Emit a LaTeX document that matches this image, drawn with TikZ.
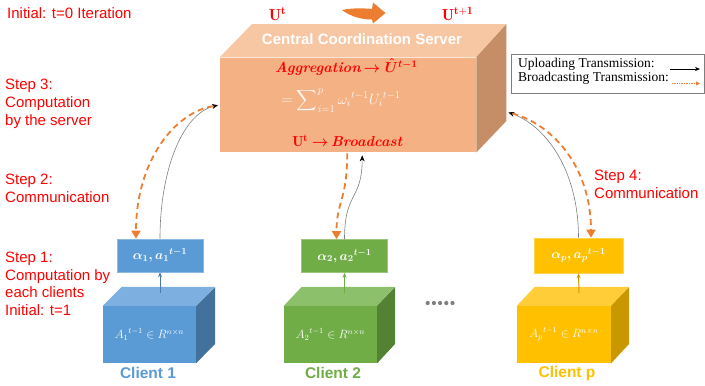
\RequirePackage{fix-cm}
\documentclass[tikz,border=0pt]{standalone}
\usepackage{amsmath}
\usepackage{fontspec}
\usetikzlibrary{arrows.meta,calc}
\newfontfamily\arialf{Liberation Sans}
\newfontfamily\timesf{Liberation Serif}
\definecolor{srvfront}{HTML}{F4B183}
\definecolor{srvtop}{HTML}{F7C6A3}
\definecolor{srvside}{HTML}{C58E67}
\definecolor{cblue}{HTML}{5B9BD5}
\definecolor{cbluetop}{HTML}{7DB0E0}
\definecolor{cblueside}{HTML}{41719C}
\definecolor{cgreen}{HTML}{70AD47}
\definecolor{cgreentop}{HTML}{8DC06A}
\definecolor{cgreenside}{HTML}{548235}
\definecolor{cgold}{HTML}{FFC000}
\definecolor{cgoldtop}{HTML}{FFCD38}
\definecolor{cgoldside}{HTML}{C99700}
\definecolor{bcast}{HTML}{ED7D31}
\definecolor{stepred}{HTML}{FF0000}
\definecolor{upgray}{HTML}{7F7F7F}
\begin{document}
\begin{tikzpicture}[x=1pt,y=-1pt,
  steplabel/.style={font=\arialf\fontsize{15}{17.7}\selectfont, text=stepred, align=left, anchor=north west, inner sep=0pt},
  upl/.style={draw=upgray, line width=0.6pt, -{Stealth[length=6pt,width=5pt,black]}},
  bc/.style={draw=bcast, line width=1.8pt, dash pattern=on 6pt off 4pt, -{Triangle[length=8pt,width=9pt]}},
  cfront/.style={fill=#1, minimum width=93pt, minimum height=57pt, inner sep=0pt, text=white, font=\fontsize{12}{14}\selectfont},
  cbox/.style={fill=#1, draw=#1!70!white, line width=0.6pt, minimum width=86pt, minimum height=33pt, inner sep=0pt, text=white, font=\fontsize{13}{15}\selectfont},
  inarrow/.style={draw=#1, line width=1pt, -{Stealth[length=5pt,width=4pt]}},
  clabel/.style={font=\arialf\bfseries\fontsize{15.5}{17}\selectfont, text=#1, inner sep=0pt},
  mathred/.style={text=stepred, inner sep=0pt, font=\fontsize{14.5}{17}\selectfont},
]
\useasboundingbox (0,0) rectangle (705,386);

% ---------------- server ----------------
\node[fill=srvfront, minimum width=256pt, minimum height=95pt, inner sep=0pt, anchor=north west] (srv) at (220,57) {};
\fill[srvtop] (srv.north west) -- ++(32,-33) -- ++(254,0) -- (srv.north east) -- cycle;
\fill[srvside] (srv.north east) -- ++(30,-33) -- ++(0,97) -- (srv.south east) -- cycle;
\draw[white!55!srvtop, line width=0.8pt] (srv.north west) -- (srv.north east);
\node[font=\arialf\bfseries\fontsize{15}{17}\selectfont, text=white, inner sep=0pt] (title) at (362,39.5) {Central Coordination Server};

\node[mathred] (agg) at (346.5,67) {\textbf{\textit{Aggregation}}\,$\boldsymbol{\rightarrow \hat{U}^{t-1}}$};
\node[text=white!90!srvfront, inner sep=0pt, font=\fontsize{15}{17}\selectfont] (sum) at (341,100.5) {$=\displaystyle\sum\nolimits_{i=1}^{p}{\omega_i}^{t-1}{U_i}^{t-1}$};
\node[mathred] (bcst) at (347.5,140.5) {$\mathbf{U}^{\mathbf{t}}\boldsymbol{\rightarrow}$\,\textbf{\textit{Broadcast}}};

% top iteration arrow
\node[text=stepred, inner sep=0pt, font=\fontsize{16}{18}\selectfont] (ut) at (277.5,14) {$\mathbf{U}^{\mathbf{t}}$};
\node[text=stepred, inner sep=0pt, font=\fontsize{16}{18}\selectfont] (ut1) at (457.5,14) {$\mathbf{U}^{\mathbf{t+1}}$};
\fill[bcast] (342,10) .. controls (352,8) and (362,8) .. (372,9) -- (373,2.5) -- (385.5,13) -- (373,23.5) -- (372,19.5) .. controls (360,19.5) and (350,16) .. (342,10) -- cycle;

% ---------------- legend ----------------
\draw[upgray, line width=0.8pt] (511,54) rectangle (704,93);
\node[font=\timesf\fontsize{13.5}{14}\selectfont, align=left, anchor=north west, inner sep=0pt] (leg) at (518,58)
  {Uploading Transmission:\\Broadcasting Transmission:};
\coordinate (lu1) at (670,69); \coordinate (lu2) at (700,69);
\coordinate (lb1) at (672,83.5); \coordinate (lb2) at (700,83.5);
\draw[draw=black, line width=0.6pt, -{Stealth[length=5pt,width=4pt]}] (lu1) -- (lu2);
\draw[draw=bcast, line width=0.7pt, densely dotted, -{Triangle[length=4pt,width=4pt]}] (lb1) -- (lb2);

% ---------------- step labels ----------------
\node[steplabel] (init0) at (7,7.3) {Initial: t=0 Iteration};
\node[steplabel] (s3) at (5,79.3) {Step 3:\\Computation\\by the server};
\node[steplabel] (s2) at (5,174) {Step 2:\\Communication};
\node[steplabel] (s1) at (5,251.7) {Step 1:\\Computation by\\each clients\\Initial: t=1};
\node[steplabel] (s4) at (594,170) {Step 4:\\Communication};

% ---------------- client 1 ----------------
\node[cfront=cblue] (c1) at (149.5,334.5) {${A_1}^{t-1}\in R^{n\times n}$};
\fill[cbluetop] (c1.north west) -- ++(19,-19) -- ++(93,0) -- (c1.north east) -- cycle;
\fill[cblueside] (c1.north east) -- ++(19,-19) -- ++(0,57) -- (c1.south east) -- cycle;
\node[cbox=cblue] (a1) at (160,255.5) {$\boldsymbol{\alpha_1, {a_1}^{t-1}}$};
\coordinate (c1top) at ($(c1.north)+(10.5,-13)$);
\draw[inarrow=cblue!80!black] (c1top) -- (a1.south);
\node[clabel=cblue] (l1) at (148,373) {Client 1};

% ---------------- client 2 ----------------
\node[cfront=cgreen] (c2) at (330.5,334.5) {${A_2}^{t-1}\in R^{n\times n}$};
\fill[cgreentop] (c2.north west) -- ++(18,-19) -- ++(93,0) -- (c2.north east) -- cycle;
\fill[cgreenside] (c2.north east) -- ++(18,-19) -- ++(0,57) -- (c2.south east) -- cycle;
\node[cbox=cgreen] (a2) at (344.5,256) {$\boldsymbol{\alpha_2, {a_2}^{t-1}}$};
\coordinate (c2top) at ($(c2.north)+(14,-13)$);
\draw[inarrow=cgreen] (c2top) -- (a2.south);
\node[clabel=cgreen] (l2) at (333,373) {Client 2};

% ---------------- client p ----------------
\node[cfront=cgold, minimum width=94pt] (cp) at (564,334.5) {${A_p}^{t-1}\in R^{n\times n}$};
\fill[cgoldtop] (cp.north west) -- ++(18,-19) -- ++(94,0) -- (cp.north east) -- cycle;
\fill[cgoldside] (cp.north east) -- ++(18,-19) -- ++(0,57) -- (cp.south east) -- cycle;
\node[cbox=cgold, minimum width=89pt, minimum height=35pt] (ap) at (578.5,255.5) {$\boldsymbol{\alpha_p, {a_p}^{t-1}}$};
\coordinate (cptop) at ($(cp.north)+(15,-13)$);
\draw[inarrow=cgold!80!black] (cptop) -- (ap.south);
\node[clabel=cgold] (lp) at (567,373) {Client p};

% dots
\foreach \i in {0,...,4} \fill[upgray] (427.7+6.2*\i,303) circle (2.1pt);

% ---------------- connectors ----------------
\coordinate (s1up) at ($(srv.west)+(-2,0.5)$);
\coordinate (s1bc) at ($(srv.west)+(-7,1.5)$);
\coordinate (s2up) at ($(srv.south)+(14,3)$);
\coordinate (s2bc) at ($(srv.south)+(-1,1)$);
\coordinate (spup) at ($(srv.south east)+(32,-40)$);
\coordinate (spbc) at ($(srv.south east)+(36,-39)$);

\draw[upl] (a1.north) .. controls +(0,-70) and +(-35,8) .. (s1up);
\draw[bc] (s1bc) .. controls +(-38,6) and +(0,-78) .. ($(a1.north)+(-24,0)$);

\draw[upl] (a2.north) .. controls +(0,-48) and +(0,45) .. (s2up);
\draw[bc] (s2bc) .. controls +(0,47) and +(0,-38) .. ($(a2.north)+(-8,0)$);

\draw[upl] (ap.north) .. controls +(0,-68) and +(37,13) .. (spup);
\draw[bc] (spbc) .. controls +(43,12) and +(0,-68) .. ($(ap.north)+(12.5,0)$);
\end{tikzpicture}
\end{document}
